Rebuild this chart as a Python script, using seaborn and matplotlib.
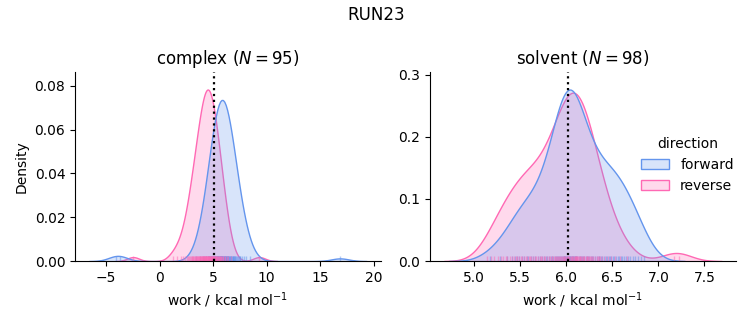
import numpy as np
import pandas as pd
import matplotlib
matplotlib.use("Agg")
import matplotlib.pyplot as plt
from matplotlib.ticker import MultipleLocator
import seaborn as sns

complex_forward = [-4.12, -3.68, 16.85,
    3.42, 3.77, 4.03,
    4.14, 4.29, 4.36, 4.47, 4.52, 4.59,
    4.62, 4.69, 4.71, 4.80, 4.83, 4.89, 4.92, 4.98, 5.02, 5.04, 5.09,
    5.11, 5.16, 5.19, 5.21, 5.26, 5.27, 5.32, 5.35, 5.36, 5.41, 5.44, 5.47, 5.48, 5.53, 5.56, 5.59,
    5.60, 5.64, 5.65, 5.69, 5.70, 5.74, 5.77, 5.79, 5.80, 5.84, 5.85, 5.89, 5.92, 5.93, 5.97, 5.98, 6.03, 6.06, 6.09,
    6.12, 6.13, 6.18, 6.21, 6.22, 6.27, 6.30, 6.31, 6.36, 6.39, 6.42, 6.43, 6.48, 6.50, 6.55, 6.57,
    6.63, 6.67, 6.70, 6.76, 6.81, 6.83, 6.89, 6.94, 6.99, 7.03, 7.08,
    7.15, 7.21, 7.33, 7.38, 7.49, 7.55,
    7.66, 7.85, 8.04, 8.41]

complex_reverse = [-2.48, 9.31,
    1.20, 1.63, 1.98, 2.21,
    2.36, 2.51, 2.63, 2.75,
    2.84, 2.92, 2.99, 3.02, 3.07, 3.13, 3.21, 3.28,
    3.32, 3.37, 3.41, 3.46, 3.52, 3.55, 3.61, 3.64, 3.70, 3.73, 3.78,
    3.81, 3.84, 3.88, 3.91, 3.94, 3.99, 4.01, 4.05, 4.08, 4.11, 4.15, 4.17, 4.21, 4.24, 4.26, 4.29,
    4.31, 4.33, 4.36, 4.38, 4.43, 4.48, 4.51, 4.53, 4.56, 4.58, 4.61, 4.64, 4.66, 4.69, 4.72, 4.75, 4.78,
    4.82, 4.85, 4.88, 4.92, 4.95, 4.98, 5.01, 5.04, 5.08, 5.11, 5.15, 5.18, 5.22, 5.25, 5.29,
    5.33, 5.38, 5.42, 5.47, 5.51, 5.56, 5.61, 5.66, 5.72, 5.77,
    5.85, 5.88, 5.94, 6.06, 6.15, 6.26,
    6.42, 6.68]

solvent_forward = [5.17, 5.28, 5.36, 5.41, 5.44, 5.47, 5.49, 5.52, 5.54, 5.57, 5.58, 5.62, 5.64, 5.66, 5.69,
    5.71, 5.74, 5.76, 5.78, 5.79,
    5.81, 5.83, 5.85, 5.86, 5.88, 5.89,
    5.90, 5.91, 5.92, 5.93, 5.94, 5.95, 5.96, 5.97, 5.97, 5.98, 5.99, 5.99,
    6.00, 6.01, 6.01, 6.02, 6.03, 6.03, 6.04, 6.04, 6.05, 6.06, 6.06, 6.07, 6.07, 6.08, 6.09, 6.09,
    6.10, 6.11, 6.12, 6.14, 6.15, 6.16, 6.17, 6.18, 6.19,
    6.21, 6.22, 6.24, 6.25, 6.27, 6.28, 6.29,
    6.31, 6.33, 6.35, 6.36, 6.38, 6.39,
    6.41, 6.43, 6.44, 6.46, 6.47, 6.49,
    6.51, 6.52, 6.54, 6.56, 6.57, 6.59,
    6.61, 6.63, 6.65, 6.67, 6.69,
    6.72, 6.75, 6.78, 6.81, 6.84]

solvent_reverse = [5.14, 5.18, 5.22, 5.26, 5.29, 5.31, 5.34, 5.36, 5.39,
    5.41, 5.43, 5.45, 5.47, 5.49,
    5.51, 5.52, 5.54, 5.56, 5.57, 5.59,
    5.61, 5.62, 5.64, 5.66, 5.67, 5.69,
    5.71, 5.72, 5.74, 5.76, 5.77, 5.79,
    5.81, 5.82, 5.84, 5.85, 5.87, 5.88, 5.89,
    5.90, 5.91, 5.92, 5.93, 5.94, 5.95, 5.96, 5.97, 5.98, 5.99,
    6.00, 6.01, 6.02, 6.02, 6.03, 6.04, 6.05, 6.06, 6.06, 6.07, 6.08, 6.09, 6.09,
    6.10, 6.11, 6.12, 6.12, 6.13, 6.14, 6.15, 6.15, 6.16, 6.17, 6.18, 6.19, 6.19,
    6.21, 6.22, 6.23, 6.24, 6.25, 6.26, 6.27, 6.28, 6.29,
    6.31, 6.33, 6.34, 6.36, 6.37, 6.39,
    6.42, 6.45, 6.48, 6.53, 6.58, 6.66,
    7.17, 7.22]

delta_f = {"complex": 5.05, "solvent": 6.02}
phases = ["complex", "solvent"]
directions = ["forward", "reverse"]
palette = {"forward": "#6495ED", "reverse": "#FF69B4"}
title = "RUN23"

frames = []
for ph, d, w in [("complex", "forward", complex_forward), ("complex", "reverse", complex_reverse),
                 ("solvent", "forward", solvent_forward), ("solvent", "reverse", solvent_reverse)]:
    frames.append(pd.DataFrame({"phase": ph, "direction": d, "work": w}))
df = pd.concat(frames, ignore_index=True)

fig, axes = plt.subplots(1, 2, figsize=(7.53, 3.25), dpi=100)
for i, (ax, ph) in enumerate(zip(axes, phases)):
    # densities normalised over all works of the run (both phases)
    d = df.copy()
    d["direction"] = np.where(d["phase"] == ph, d["direction"], "other")
    sns.kdeplot(data=d, x="work", hue="direction", hue_order=directions, palette=palette,
                fill=True, common_norm=True, common_grid=False, ax=ax, legend=(i == 1))
    sub = df[df["phase"] == ph]
    sns.rugplot(data=sub, x="work", hue="direction", hue_order=directions, palette=palette,
                alpha=0.5, legend=False, ax=ax)
    ax.axvline(delta_f[ph], color="black", linestyle=":", linewidth=1.6)
    n = len(sub[sub["direction"] == "forward"])
    ax.set_title(f"{ph} ($N = {n}$)")
    ax.set_xlabel("work / kcal mol$^{-1}$")
    if i == 1:
        ax.set_ylabel("")
        ax.yaxis.set_major_locator(MultipleLocator(0.1))
    sns.despine(ax=ax)

sns.move_legend(axes[1], "center right", bbox_to_anchor=(1.035, 0.51), frameon=False)
fig.suptitle(title)
fig.tight_layout()
fig.savefig("out.png", dpi=100)
